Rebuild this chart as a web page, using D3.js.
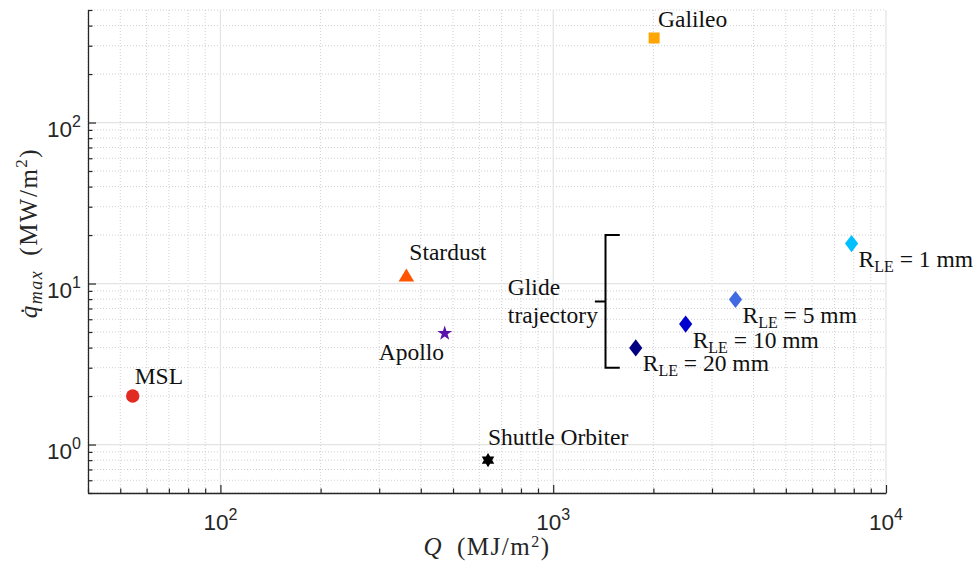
<!DOCTYPE html>
<html>
<head>
<meta charset="utf-8">
<script src="https://cdn.jsdelivr.net/npm/d3@7"></script>
<style>
  html, body { margin: 0; padding: 0; background: #fff; }
  svg { display: block; }
</style>
</head>
<body>
<svg id="chart" width="975" height="564"></svg>
<script>
// Entry vehicles: integrated heat load Q (MJ/m^2) vs. peak heat flux (MW/m^2)
const missions     = ["MSL", "Stardust", "Apollo", "Galileo", "Shuttle Orbiter"];
const missionQ     = [54.5, 362, 472, 2010, 637];
const missionQdot  = [2.0, 11.3, 4.9, 335, 0.8];
const missionColor = ["#e02a22", "#ff5500", "#5b12ad", "#ffa500", "#000000"];
const missionShape = ["circle", "triangle", "star", "square", "hexagram"];

// Glide trajectory for several leading-edge radii
const glideRadius = ["1 mm", "5 mm", "10 mm", "20 mm"];
const glideQ      = [7880, 3530, 2500, 1770];
const glideQdot   = [17.7, 7.96, 5.6, 3.98];
const glideColor  = ["#00bfff", "#4169e1", "#0000cd", "#000080"];

// Axis ranges and tick decades
const xDomain = [40, 10000];
const yDomain = [0.5, 500];
const xMajorExp = [2, 3, 4];
const yMajorExp = [0, 1, 2];

// Bracket grouping the glide trajectory points
const bracketQ = { spine: 1436, arm: 1585, tip: 1334 };
const bracketQdot = { top: 20, bottom: 3 };

const plotL = 88, plotR = 886, plotT = 10, plotB = 493;

const svg = d3.select("#chart");
const x = d3.scaleLog().domain(xDomain).range([plotL, plotR]);
const y = d3.scaleLog().domain(yDomain).range([plotB, plotT]);

// minor tick values for a log domain
function minors(domain) {
  const out = [];
  const lo = Math.floor(Math.log10(domain[0])), hi = Math.ceil(Math.log10(domain[1]));
  for (let e = lo; e <= hi; e++) {
    for (let m = 2; m <= 9; m++) {
      const v = m * Math.pow(10, e);
      if (v >= domain[0] * 0.999 && v <= domain[1] * 1.001) out.push(v);
    }
  }
  return out;
}
const xMinor = minors(xDomain), yMinor = minors(yDomain);
const xMajor = xMajorExp.map(e => Math.pow(10, e));
const yMajor = yMajorExp.map(e => Math.pow(10, e));

// grid
const grid = svg.append("g");
grid.selectAll(".gxm").data(xMinor).join("line")
  .attr("x1", d => x(d)).attr("x2", d => x(d)).attr("y1", plotT).attr("y2", plotB)
  .attr("stroke", "#d0d0d0").attr("stroke-width", 1).attr("stroke-dasharray", "1,2");
grid.selectAll(".gym").data(yMinor).join("line")
  .attr("y1", d => y(d)).attr("y2", d => y(d)).attr("x1", plotL).attr("x2", plotR)
  .attr("stroke", "#d0d0d0").attr("stroke-width", 1).attr("stroke-dasharray", "1,2");
grid.selectAll(".gxM").data(xMajor).join("line")
  .attr("x1", d => x(d)).attr("x2", d => x(d)).attr("y1", plotT).attr("y2", plotB)
  .attr("stroke", "#e3e3e3").attr("stroke-width", 1.2);
grid.selectAll(".gyM").data(yMajor).join("line")
  .attr("y1", d => y(d)).attr("y2", d => y(d)).attr("x1", plotL).attr("x2", plotR)
  .attr("stroke", "#e3e3e3").attr("stroke-width", 1.2);

// axes with inward ticks
function styleAxis(g) {
  g.select(".domain").attr("stroke", "#262626").attr("stroke-width", 1.3);
  g.selectAll(".tick line").attr("stroke", "#262626").attr("stroke-width", 1.2);
  g.selectAll(".tick text").remove();
}
svg.append("g").attr("transform", `translate(0,${plotB})`)
  .call(d3.axisBottom(x).tickValues(xMinor).tickSize(-4.5).tickSizeOuter(0).tickFormat(""))
  .call(styleAxis).select(".domain").remove();
svg.append("g").attr("transform", `translate(0,${plotB})`)
  .call(d3.axisBottom(x).tickValues(xMajor).tickSize(-8).tickSizeOuter(0).tickFormat(""))
  .call(styleAxis);
svg.append("g").attr("transform", `translate(${plotL},0)`)
  .call(d3.axisLeft(y).tickValues(yMinor).tickSize(-4.5).tickSizeOuter(0).tickFormat(""))
  .call(styleAxis).select(".domain").remove();
svg.append("g").attr("transform", `translate(${plotL},0)`)
  .call(d3.axisLeft(y).tickValues(yMajor).tickSize(-8).tickSizeOuter(0).tickFormat(""))
  .call(styleAxis);

// tick labels 10^n
const tickFont = "'Liberation Sans', Arial, Helvetica, sans-serif";
function powLabel(sel, e) {
  sel.append("tspan").text("10");
  sel.append("tspan").attr("dy", -10).attr("font-size", 16).text(e);
}
xMajorExp.forEach(e => {
  svg.append("text")
    .attr("x", x(Math.pow(10, e))).attr("y", 530)
    .attr("text-anchor", "middle")
    .attr("font-family", tickFont).attr("font-size", 22.5).attr("fill", "#262626")
    .call(powLabel, e);
});
yMajorExp.forEach(e => {
  svg.append("text")
    .attr("x", 81).attr("y", y(Math.pow(10, e)) + 14)
    .attr("text-anchor", "end")
    .attr("font-family", tickFont).attr("font-size", 22.5).attr("fill", "#262626")
    .call(powLabel, e);
});

// axis titles
const serif = "'Liberation Serif', 'Times New Roman', serif";
const xt = svg.append("text")
  .attr("x", (plotL + plotR) / 2).attr("y", 555)
  .attr("text-anchor", "middle")
  .attr("font-family", serif).attr("font-size", 25).attr("letter-spacing", 1.5)
  .attr("fill", "#262626");
xt.append("tspan").attr("font-style", "italic").text("Q");
xt.append("tspan").text("\u2002(MJ/m");
xt.append("tspan").attr("dy", -8).attr("font-size", 16).text("2");
xt.append("tspan").attr("dy", 8).text(")");

const yt = svg.append("text")
  .attr("transform", `translate(37,233) rotate(-90)`)
  .attr("text-anchor", "middle")
  .attr("font-family", serif).attr("font-size", 25).attr("letter-spacing", 1.5)
  .attr("fill", "#262626");
yt.append("tspan").attr("font-style", "italic").text("q\u0307");
yt.append("tspan").attr("font-style", "italic").attr("font-size", 18).attr("dy", 5).text("max");
yt.append("tspan").attr("dy", -5).text("\u2002(MW/m");
yt.append("tspan").attr("dy", -10).attr("font-size", 17).text("2");
yt.append("tspan").attr("dy", 10).text(")");

// marker paths
function polygon(pts) { return "M" + pts.map(p => p.join(",")).join("L") + "Z"; }
function starPath(n, R, r, rot) {
  const pts = [];
  for (let i = 0; i < 2 * n; i++) {
    const a = rot + i * Math.PI / n;
    const rad = i % 2 === 0 ? R : r;
    pts.push([rad * Math.sin(a), -rad * Math.cos(a)]);
  }
  return polygon(pts);
}
const shapes = {
  circle: d3.arc()({ innerRadius: 0, outerRadius: 6.7, startAngle: 0, endAngle: 2 * Math.PI }),
  triangle: polygon([[0, -6.6], [7.8, 6.6], [-7.8, 6.6]]),
  star: starPath(5, 7.8, 3.0, 0),
  square: polygon([[-5.5, -5.5], [5.5, -5.5], [5.5, 5.5], [-5.5, 5.5]]),
  hexagram: starPath(6, 7.2, 4.2, 0),
  diamond: polygon([[0, -8.6], [6.6, 0], [0, 8.6], [-6.6, 0]])
};

// mission markers
const missionData = missions.map((name, i) => ({
  name, q: missionQ[i], qdot: missionQdot[i], color: missionColor[i], shape: missionShape[i]
}));
svg.append("g").selectAll("path").data(missionData).join("path")
  .attr("transform", d => `translate(${x(d.q)},${y(d.qdot)})`)
  .attr("d", d => shapes[d.shape])
  .attr("fill", d => d.color);

// mission labels (pixel offsets from the marker)
const labelOffset = {
  "MSL": [2, -12],
  "Stardust": [3, -14.5],
  "Apollo": [-66, 27],
  "Galileo": [4, -11],
  "Shuttle Orbiter": [0, -15]
};
svg.append("g").selectAll("text").data(missionData).join("text")
  .attr("x", d => x(d.q) + labelOffset[d.name][0])
  .attr("y", d => y(d.qdot) + labelOffset[d.name][1])
  .attr("font-family", serif).attr("font-size", 23.5).attr("fill", "#111")
  .text(d => d.name);

// glide trajectory markers and labels
const glideData = glideRadius.map((r, i) => ({
  r, q: glideQ[i], qdot: glideQdot[i], color: glideColor[i]
}));
svg.append("g").selectAll("path").data(glideData).join("path")
  .attr("transform", d => `translate(${x(d.q)},${y(d.qdot)})`)
  .attr("d", shapes.diamond)
  .attr("fill", d => d.color);
const gl = svg.append("g").selectAll("text").data(glideData).join("text")
  .attr("x", d => x(d.q) + 7)
  .attr("y", d => y(d.qdot) + 23.5)
  .attr("font-family", serif).attr("font-size", 23.5).attr("fill", "#111");
gl.append("tspan").text("R");
gl.append("tspan").attr("font-size", 16).attr("dy", 5).text("LE");
gl.append("tspan").attr("dy", -5).text(d => " = " + d.r);

// bracket
const bx = x(bracketQ.spine), bArm = x(bracketQ.arm), bTip = x(bracketQ.tip);
const bTop = y(bracketQdot.top), bBot = y(bracketQdot.bottom);
const bMid = y(Math.sqrt(bracketQdot.top * bracketQdot.bottom));
svg.append("path")
  .attr("d", `M${bArm},${bTop}H${bx}V${bBot}H${bArm}M${bx},${bMid}H${bTip}`)
  .attr("fill", "none").attr("stroke", "#000").attr("stroke-width", 2);
const gt = svg.append("g").attr("font-family", serif).attr("font-size", 23.5).attr("fill", "#111");
gt.append("text").attr("x", bTip - 87).attr("y", bMid - 6.5).text("Glide");
gt.append("text").attr("x", bTip - 87).attr("y", bMid + 21.5).text("trajectory");
</script>
</body>
</html>
